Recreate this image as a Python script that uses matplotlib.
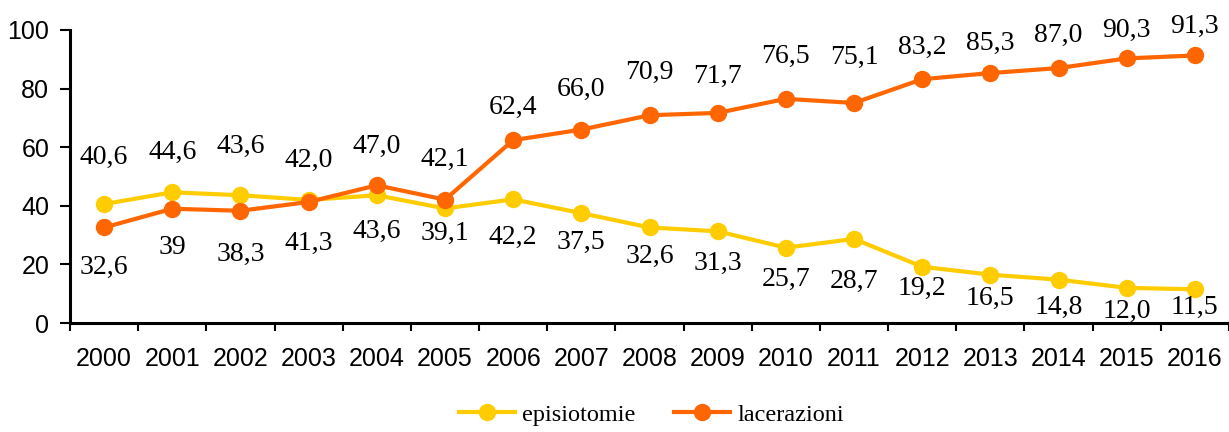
import matplotlib
matplotlib.use("Agg")
import matplotlib.pyplot as plt

years = [str(y) for y in range(2000, 2017)]
episiotomie = [40.6, 44.6, 43.6, 42.0, 43.6, 39.1, 42.2, 37.5, 32.6, 31.3,
               25.7, 28.7, 19.2, 16.5, 14.8, 12.0, 11.5]
lacerazioni = [32.6, 39, 38.3, 41.3, 47.0, 42.1, 62.4, 66.0, 70.9, 71.7,
               76.5, 75.1, 83.2, 85.3, 87.0, 90.3, 91.3]

# label distance from the point, in pixels (upper label / lower label)
top_off = [47, 40, 49, 40, 39, 40, 33, 40, 43, 37, 42, 46, 32, 30, 33, 28, 29]
bot_off = [40, 39, 44, 41, 36, 25, 38, 29, 29, 32, 32, 42, 22, 24, 28, 24, 18]

YELLOW = "#FFCC00"
ORANGE = "#FF6600"
SERIF = "Liberation Serif"
SANS = "Liberation Sans"


def fmt(v):
    if isinstance(v, int):
        return str(v)
    return f"{v:.1f}".replace(".", ",")


fig = plt.figure(figsize=(12.29, 4.32), dpi=100)
ax = fig.add_axes([0.057, 0.2523, 0.943, 0.6783])

x = list(range(len(years)))
ax.plot(x, episiotomie, color=YELLOW, lw=3, marker="o", ms=11.5,
        label="episiotomie", zorder=3, clip_on=False)
ax.plot(x, lacerazioni, color=ORANGE, lw=3, marker="o", ms=11.5,
        label="lacerazioni", zorder=4, clip_on=False)

for i in x:
    e, l = episiotomie[i], lacerazioni[i]
    hi, lo = (e, l) if e >= l else (l, e)
    ax.annotate(fmt(hi), (i, hi), xytext=(0, top_off[i]), textcoords="offset pixels",
                ha="center", va="center", fontsize=20, family=SERIF, color="black")
    ax.annotate(fmt(lo), (i, lo), xytext=(0, -bot_off[i]), textcoords="offset pixels",
                ha="center", va="center", fontsize=20, family=SERIF, color="black")

ax.set_xlim(-0.5, len(years) - 0.5)
ax.set_ylim(0, 100)
ax.set_yticks(range(0, 101, 20))

ax.set_xticks(x)
ax.set_xticklabels(years)
ax.set_xticks([i - 0.5 for i in x] + [len(years) - 0.5], minor=True)
ax.tick_params(axis="x", which="major", length=0, pad=17)
ax.tick_params(axis="x", which="minor", length=6, width=1.5, direction="out")
ax.tick_params(axis="y", length=7, width=1.5, pad=8)
for lab in ax.get_xticklabels() + ax.get_yticklabels():
    lab.set_family(SANS)
    lab.set_fontsize(18)

for s in ["top", "right"]:
    ax.spines[s].set_visible(False)
for s in ["left", "bottom"]:
    ax.spines[s].set_linewidth(2.2)

fig.legend(loc="center", bbox_to_anchor=(0.53, 0.04), ncol=2, frameon=False,
           prop={"family": SERIF, "size": 17.5}, handlelength=2.3,
           columnspacing=1.6, handletextpad=0.3)

fig.savefig("out.png", dpi=100)
